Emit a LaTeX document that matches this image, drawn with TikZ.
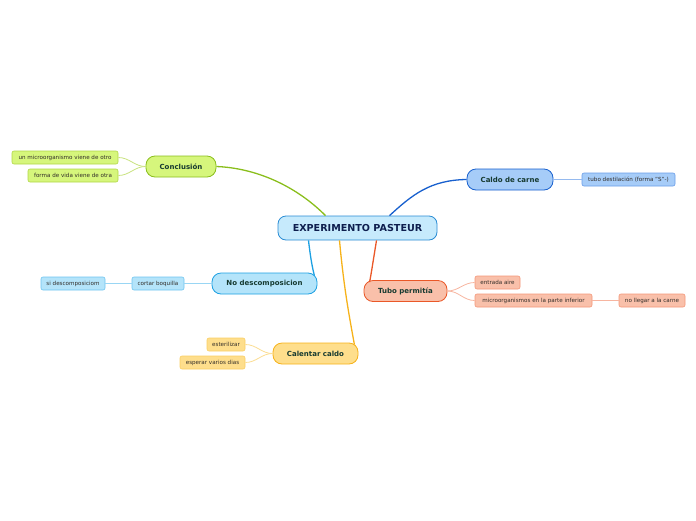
\documentclass[tikz,border=0pt]{standalone}
\usepackage{fontspec}
\setmainfont{DejaVu Sans}
\usetikzlibrary{calc}
\definecolor{txt}{RGB}{22,58,48}
\definecolor{ctrfill}{RGB}{198,234,252}
\definecolor{ctrdraw}{RGB}{42,140,212}
\definecolor{ctrtxt}{RGB}{14,30,78}
\definecolor{gfill}{RGB}{214,246,124}
\definecolor{gdraw}{RGB}{138,190,28}
\definecolor{gsub}{RGB}{176,214,70}
\definecolor{bfill}{RGB}{166,204,248}
\definecolor{bdraw}{RGB}{24,96,206}
\definecolor{bsub}{RGB}{104,156,232}
\definecolor{ofill}{RGB}{249,192,170}
\definecolor{odraw}{RGB}{234,88,40}
\definecolor{osub}{RGB}{244,150,120}
\definecolor{cfill}{RGB}{180,228,250}
\definecolor{cdraw}{RGB}{28,160,226}
\definecolor{csub}{RGB}{110,196,240}
\definecolor{yfill}{RGB}{254,222,140}
\definecolor{ydraw}{RGB}{246,178,26}
\definecolor{ysub}{RGB}{250,206,100}
\definecolor{subtxt}{RGB}{50,45,40}
\tikzset{
  ctr/.style={draw=ctrdraw,fill=ctrfill,line width=0.8pt,rounded corners=8pt,
    minimum width=159pt,minimum height=24pt,inner sep=0pt,
    font=\fontsize{9.6}{11}\selectfont\bfseries,text=ctrtxt},
  br/.style={line width=0.8pt,rounded corners=9pt,minimum height=21pt,inner sep=0pt,
    font=\fontsize{7.0}{8}\selectfont\bfseries,text=txt},
  sb/.style={line width=0.6pt,rounded corners=2pt,minimum height=13pt,inner sep=0pt,
    font=\fontsize{5.6}{6.5}\selectfont,text=subtxt},
  conn/.style={line width=1.3pt},
  sconn/.style={line width=0.8pt},
}
\begin{document}
\begin{tikzpicture}[x=1pt,y=-1pt]
\useasboundingbox (0,0) rectangle (696,520);
% center
\node[ctr] (c) at (357.5,228) {EXPERIMENTO PASTEUR};
% branches
\node[br,draw=gdraw,fill=gfill,minimum width=70pt] (con) at (181,166.5) {Conclusión};
\node[br,draw=bdraw,fill=bfill,minimum width=86pt] (cal) at (510,179.5) {Caldo de carne};
\node[br,draw=odraw,fill=ofill,minimum width=83pt] (tub) at (405.5,291) {Tubo permitía};
\node[br,draw=cdraw,fill=cfill,minimum width=105pt] (nod) at (264.5,283.5) {No descomposicion};
\node[br,draw=ydraw,fill=yfill,minimum width=85pt] (cc) at (315.5,353.5) {Calentar caldo};
% subs
\node[sb,draw=gsub,fill=gfill,minimum width=106pt] (g1) at (65,157.5) {un microorganismo viene de otro};
\node[sb,draw=gsub,fill=gfill,minimum width=90pt] (g2) at (73,175.5) {forma de vida viene de otra};
\node[sb,draw=bsub,fill=bfill,minimum width=93pt] (b1) at (628.5,179.5) {tubo destilación (forma "S"-)};
\node[sb,draw=osub,fill=ofill,minimum width=45pt] (o1) at (497.5,282.5) {entrada aire};
\node[sb,draw=osub,fill=ofill,minimum width=117pt] (o2) at (533.5,300.5) {microorganismos en la parte inferior};
\node[sb,draw=osub,fill=ofill,minimum width=66pt] (o3) at (652,300.5) {no llegar a la carne};
\node[sb,draw=csub,fill=cfill,minimum width=52pt] (c1) at (158,283.5) {cortar boquilla};
\node[sb,draw=csub,fill=cfill,minimum width=64pt] (c2) at (73,283.5) {si descomposiciom};
\node[sb,draw=ysub,fill=yfill,minimum width=38pt] (y1) at (226,344.5) {esterilizar};
\node[sb,draw=ysub,fill=yfill,minimum width=65pt] (y2) at (212.5,362.5) {esperar varios dias};
% main connectors
\draw[conn,draw=gdraw] ($(c.north)+(-32,0)$) .. controls (295,185) and (255,168) .. (con.east);
\draw[conn,draw=bdraw] ($(c.north)+(32,0)$) .. controls (412,195) and (430,180) .. (cal.west);
\draw[conn,draw=odraw] ($(c.south)+(19,0)$) .. controls (373,262) and (371,275) .. ($(tub.north west)+(6,2)$);
\draw[conn,draw=cdraw] ($(c.south)+(-49,0)$) .. controls (311,262) and (313,270) .. ($(nod.north east)+(-3,3)$);
\draw[conn,draw=ydraw] ($(c.south)+(-18,0)$) .. controls (344,290) and (350,320) .. ($(cc.north east)+(-4,2)$);
% sub connectors
\draw[sconn,draw=gsub!70!white] (con.west) to[out=180,in=0] (g1.east);
\draw[sconn,draw=gsub!70!white] (con.west) to[out=180,in=0] (g2.east);
\draw[sconn,draw=bsub!70!white] (cal.east) -- (b1.west);
\draw[sconn,draw=osub!70!white] (tub.east) to[out=0,in=180] (o1.west);
\draw[sconn,draw=osub!70!white] (tub.east) to[out=0,in=180] (o2.west);
\draw[sconn,draw=osub!70!white] (o2.east) -- (o3.west);
\draw[sconn,draw=csub!70!white] (nod.west) -- (c1.east);
\draw[sconn,draw=csub!70!white] (c1.west) -- (c2.east);
\draw[sconn,draw=ysub!70!white] (cc.west) to[out=180,in=0] (y1.east);
\draw[sconn,draw=ysub!70!white] (cc.west) to[out=180,in=0] (y2.east);
\end{tikzpicture}
\end{document}
